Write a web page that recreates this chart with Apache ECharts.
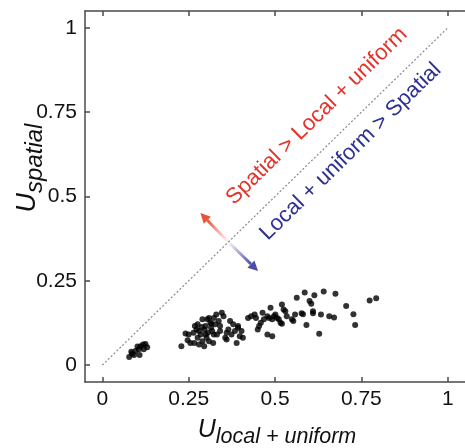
<!DOCTYPE html>
<html>
<head>
<meta charset="utf-8">
<script src="https://cdn.jsdelivr.net/npm/echarts@6/dist/echarts.min.js"></script>
<style>
  html, body { margin: 0; padding: 0; background: #fff; }
  #chart { width: 465px; height: 448px; }
</style>
</head>
<body>
<div id="chart"></div>
<script>
// tick positions on both axes
const tickValues = [0, 0.25, 0.5, 0.75, 1]
// y = x reference
const diagonal = [[0, 0], [1, 1]]
// points, [U local+uniform, U spatial]
const groupLow = [
  [0.078, 0.024], [0.086, 0.034], [0.092, 0.030], [0.096, 0.042], [0.102, 0.055],
  [0.106, 0.047], [0.108, 0.030], [0.111, 0.056], [0.118, 0.061], [0.120, 0.047],
  [0.125, 0.063], [0.130, 0.053], [0.084, 0.040]
]
const groupMid = [
  [0.229, 0.056], [0.241, 0.094], [0.247, 0.074], [0.255, 0.066], [0.264, 0.096],
  [0.268, 0.116], [0.266, 0.066], [0.276, 0.121], [0.276, 0.081], [0.280, 0.101],
  [0.285, 0.091], [0.290, 0.136], [0.290, 0.071], [0.295, 0.056], [0.296, 0.106],
  [0.299, 0.116], [0.302, 0.081], [0.304, 0.136], [0.306, 0.096], [0.309, 0.140],
  [0.309, 0.071], [0.313, 0.126], [0.315, 0.111], [0.318, 0.101], [0.321, 0.066],
  [0.323, 0.140], [0.327, 0.121], [0.330, 0.150], [0.332, 0.091], [0.337, 0.131],
  [0.341, 0.101], [0.346, 0.155], [0.351, 0.145], [0.356, 0.081], [0.360, 0.076],
  [0.365, 0.106], [0.370, 0.131], [0.374, 0.091], [0.379, 0.121], [0.384, 0.101],
  [0.389, 0.066], [0.393, 0.116], [0.398, 0.086], [0.403, 0.101], [0.407, 0.081],
  [0.273, 0.106], [0.288, 0.113], [0.299, 0.091], [0.316, 0.123], [0.341, 0.116],
  [0.360, 0.096], [0.393, 0.111], [0.250, 0.091], [0.280, 0.061], [0.323, 0.091]
]
const groupHigh = [
  [0.422, 0.140], [0.431, 0.145], [0.441, 0.150], [0.445, 0.140], [0.450, 0.106],
  [0.454, 0.116], [0.459, 0.126], [0.464, 0.155], [0.468, 0.136], [0.478, 0.145],
  [0.483, 0.140], [0.487, 0.170], [0.492, 0.136], [0.497, 0.145], [0.501, 0.150],
  [0.506, 0.140], [0.511, 0.136], [0.520, 0.180], [0.525, 0.165], [0.530, 0.160],
  [0.534, 0.145], [0.516, 0.126], [0.520, 0.123], [0.549, 0.136], [0.553, 0.131],
  [0.558, 0.150], [0.563, 0.200], [0.586, 0.215], [0.600, 0.190], [0.605, 0.182],
  [0.614, 0.207], [0.641, 0.218], [0.675, 0.212], [0.577, 0.154], [0.581, 0.151],
  [0.610, 0.160], [0.610, 0.154], [0.633, 0.150], [0.657, 0.145], [0.671, 0.141],
  [0.706, 0.175], [0.727, 0.151], [0.732, 0.119], [0.591, 0.119], [0.628, 0.093],
  [0.774, 0.192], [0.793, 0.198], [0.478, 0.091], [0.492, 0.086]
]

const FONT = '"Liberation Sans", Arial, Helvetica, sans-serif'
const AXIS_COLOR = '#4a4a4a'

const chart = echarts.init(document.getElementById('chart'))

const axisLine = { show: true, onZero: false, lineStyle: { color: AXIS_COLOR, width: 1.5 } }
const axisTick = { show: true, inside: true, length: 5, customValues: tickValues, lineStyle: { color: AXIS_COLOR, width: 1.5 } }
const axisLabel = { customValues: tickValues, fontSize: 21, color: '#111', fontFamily: FONT }

const dots = {
  type: 'scatter',
  symbolSize: 6,
  itemStyle: { color: '#000' },
  silent: true
}

chart.setOption({
  animation: false,
  grid: { left: 85, top: 11, width: 389.8, height: 371 },
  xAxis: [
    {
      type: 'value', min: -0.05, max: 1.05, position: 'bottom',
      axisLine, axisTick,
      axisLabel: Object.assign({ margin: 7 }, axisLabel),
      splitLine: { show: false }
    },
    {
      type: 'value', min: -0.05, max: 1.05, position: 'top',
      axisLine, axisTick,
      axisLabel: { show: false },
      splitLine: { show: false }
    }
  ],
  yAxis: {
    type: 'value', min: -0.05, max: 1.05,
    axisLine, axisTick,
    axisLabel: Object.assign({ margin: 8 }, axisLabel),
    splitLine: { show: false }
  },
  series: [
    {
      type: 'line',
      data: diagonal,
      symbol: 'none',
      silent: true,
      lineStyle: { color: '#8a8a8a', width: 1.2, type: [2, 2] }
    },
    Object.assign({ data: groupLow }, dots),
    Object.assign({ data: groupMid }, dots),
    Object.assign({ data: groupHigh }, dots)
  ]
})

// annotations placed in data space
const px = p => chart.convertToPixel({ seriesIndex: 0 }, p)
const rot = Math.atan2(px([0, 0])[1] - px([1, 1])[1], px([1, 1])[0] - px([0, 0])[0])

function arrow(from, to, c0, c1) {
  const p0 = px(from)
  const p1 = px(to)
  const dx = p1[0] - p0[0]
  const dy = p1[1] - p0[1]
  const len = Math.hypot(dx, dy)
  const ux = dx / len
  const uy = dy / len
  const head = 10
  const hw = 5
  const base = [p1[0] - ux * head, p1[1] - uy * head]
  return [
    {
      type: 'line',
      shape: { x1: p0[0], y1: p0[1], x2: base[0], y2: base[1] },
      style: {
        stroke: new echarts.graphic.LinearGradient(p0[0], p0[1], base[0], base[1], [
          { offset: 0, color: c0 },
          { offset: 1, color: c1 }
        ], true),
        lineWidth: 3
      }
    },
    {
      type: 'polygon',
      shape: { points: [p1, [base[0] - uy * hw, base[1] + ux * hw], [base[0] + uy * hw, base[1] - ux * hw]] },
      style: { fill: c1 }
    }
  ]
}

function note(text, at, color) {
  const p = px(at)
  return {
    type: 'text', x: p[0], y: p[1], rotation: rot,
    style: { text, fill: color, fontSize: 22, fontFamily: FONT, align: 'center', verticalAlign: 'middle' }
  }
}

function titleRich(big, small, drop) {
  return {
    u: { fontSize: big, fontStyle: 'italic', fontFamily: FONT, fill: '#111', lineHeight: 20, verticalAlign: 'top' },
    s: { fontSize: small, fontStyle: 'italic', fontFamily: FONT, fill: '#111', lineHeight: 20, verticalAlign: 'top', padding: [drop, 0, 0, 0] }
  }
}

chart.setOption({
  graphic: [
    ...arrow([0.365, 0.365], [0.284, 0.451], 'rgba(236,110,90,0.05)', '#e4553a'),
    ...arrow([0.365, 0.365], [0.451, 0.279], 'rgba(90,95,175,0.05)', '#4a4ea6'),
    note('Spatial > Local + uniform', [0.621, 0.738], '#e5332a'),
    note('Local + uniform > Spatial', [0.719, 0.633], '#2e3192'),
    {
      type: 'text', x: 277, y: 428,
      style: { text: '{u|U}{s|local + uniform}', rich: titleRich(25, 21.5, 8), align: 'center', verticalAlign: 'middle' }
    },
    {
      type: 'text', x: 24, y: 168, rotation: Math.PI / 2,
      style: { text: '{u|U}{s|spatial}', rich: titleRich(27, 24, 9), align: 'center', verticalAlign: 'middle' }
    }
  ]
})
</script>
</body>
</html>
